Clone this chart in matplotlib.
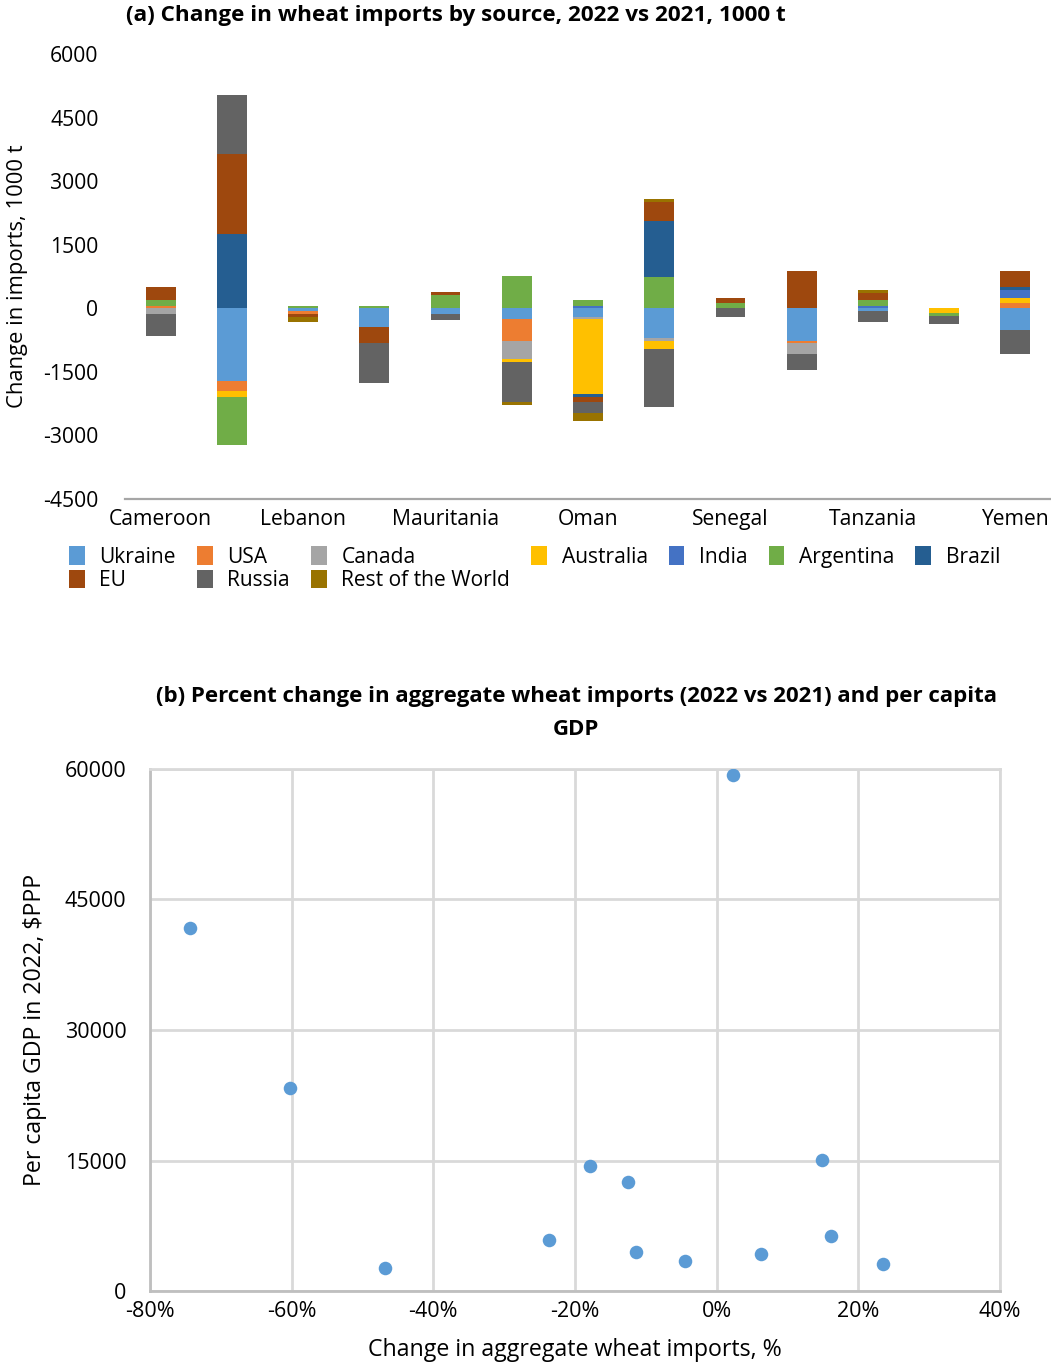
import numpy as np
import matplotlib
matplotlib.use("Agg")
import matplotlib.pyplot as plt

plt.rcParams['font.family'] = ['Open Sans', 'DejaVu Sans']
plt.rcParams['axes.unicode_minus'] = False

# ---- panel (a) data: change in wheat imports by source, 1000 t ----
countries = ['Cameroon', 'Egypt', 'Lebanon', 'Libya', 'Mauritania', 'Morocco', 'Oman',
             'Saudi Arabia', 'Senegal', 'Sudan', 'Tanzania', 'Tunisia', 'Yemen']

ukraine   = [0, -1710, -60, -436, -130, -250, -200, -696, 0, -766, -60, 0, -507]
usa       = [60, -235, -70, 0, 0, -520, 0, 0, 0, -47, 0, 0, 130]
canada    = [-130, 0, 0, 0, 0, -425, -50, -70, 0, -260, 0, 0, 0]
australia = [0, -140, 0, 0, 0, -70, -1770, -190, 0, 0, 0, -110, 118]
india     = [0, 0, 0, 0, 0, 0, 60, 0, 0, 0, 50, 0, 188]
argentina = [140, -1130, 50, 50, 318, 766, 140, 743, 130, 0, 140, -70, 0]
brazil    = [0, 1760, 0, 0, 0, 0, -70, 1320, 0, 0, 0, 0, 70]
eu        = [307, 1890, -70, -377, 70, 0, -118, 450, 118, 880, 165, 0, 377]
russia    = [-518, 1380, 0, -943, -140, -945, -260, -1370, -200, -377, -260, -190, -566]
rest      = [0, 0, -120, 0, 0, -70, -190, 70, 0, 0, 70, 0, 0]

sources = ['Ukraine', 'USA', 'Canada', 'Australia', 'India', 'Argentina', 'Brazil',
           'EU', 'Russia', 'Rest of the World']
series = [ukraine, usa, canada, australia, india, argentina, brazil, eu, russia, rest]
colors = ['#5B9BD5', '#ED7D31', '#A5A5A5', '#FFC000', '#4472C4', '#70AD47', '#255E91',
          '#9E480E', '#636363', '#997300']

# ---- panel (b) data: % change in aggregate imports vs per capita GDP ----
pct_change = [-74.4, -60.2, -46.8, -23.7, -17.9, -12.5, -11.4, -4.5, 2.3, 6.2, 14.9, 16.2, 23.5]
gdp_pc = [41700, 23350, 2690, 5900, 14400, 12560, 4520, 3490, 59280, 4290, 15085, 6360, 3145]

W, H = 1051, 1366
fig = plt.figure(figsize=(W / 100, H / 100), dpi=100)

# ---------------- (a) stacked bars ----------------
ax1 = fig.add_axes([125 / W, 1 - 499 / H, 926 / W, 445 / H])
x = np.arange(len(countries))
pos_base = np.zeros(len(countries))
neg_base = np.zeros(len(countries))
handles = []
for name, vals, col in zip(sources, series, colors):
    v = np.array(vals, dtype=float)
    p = np.where(v > 0, v, 0)
    n = np.where(v < 0, v, 0)
    h = ax1.bar(x, p, 0.42, bottom=pos_base, color=col, label=name, linewidth=0)
    ax1.bar(x, n, 0.42, bottom=neg_base, color=col, linewidth=0)
    pos_base += p
    neg_base += n
    handles.append(h)

ax1.set_xlim(-0.5, 12.5)
ax1.set_ylim(-4500, 6000)
ax1.set_yticks(np.arange(-4500, 6001, 1500))
ax1.set_xticks(x[::2])
ax1.set_xticklabels(countries[::2])
for s in ['top', 'right', 'left']:
    ax1.spines[s].set_visible(False)
ax1.spines['bottom'].set_color('#A6A6A6')
ax1.spines['bottom'].set_linewidth(1.6)
ax1.tick_params(axis='both', length=0, labelsize=15.2, colors='#000000')
ax1.tick_params(axis='y', pad=19)
ax1.tick_params(axis='x', pad=7)
ax1.set_ylabel('Change in imports, 1000 t', fontsize=15.8)
ax1.yaxis.set_label_coords(-97 / 926, 0.5)
fig.text(456 / W, 1 - 16 / H, '(a) Change in wheat imports by source, 2022 vs 2021, 1000 t',
         ha='center', va='center', fontsize=16.2, fontweight='bold')

# legend: reorder so columns read like the Excel legend rows
order = [0, 7, 1, 8, 2, 9, 3, 4, 5, 6]
fig.legend([handles[i] for i in order], [sources[i] for i in order], ncol=7,
           loc='upper left', bbox_to_anchor=(69 / W, 1 - 546 / H), frameon=False,
           fontsize=15.1, handlelength=0.75, handleheight=1.0, handletextpad=0.7,
           columnspacing=1.0, labelspacing=0.1, borderaxespad=0, borderpad=0)

# ---------------- (b) scatter ----------------
ax2 = fig.add_axes([150 / W, 1 - 1291.4 / H, 850 / W, 522.8 / H])
ax2.scatter(pct_change, gdp_pc, s=95, color='#5B9BD5', zorder=3, linewidths=0)
ax2.set_xlim(-80, 40)
ax2.set_ylim(0, 60000)
ax2.set_xticks(np.arange(-80, 41, 20))
ax2.set_xticklabels([f'{t}%' for t in range(-80, 41, 20)])
ax2.set_yticks(np.arange(0, 60001, 15000))
ax2.grid(True, color='#D9D9D9', linewidth=2)
ax2.set_axisbelow(True)
for s in ['top', 'right']:
    ax2.spines[s].set_color('#D9D9D9')
    ax2.spines[s].set_linewidth(2)
for s in ['left', 'bottom']:
    ax2.spines[s].set_color('#BFBFBF')
    ax2.spines[s].set_linewidth(2)
ax2.tick_params(axis='both', length=0, labelsize=15.5)
ax2.tick_params(axis='y', pad=17)
ax2.tick_params(axis='x', pad=7)
ax2.set_xlabel('Change in aggregate wheat imports, %', fontsize=16.7, va='center')
ax2.xaxis.set_label_coords(0.5, -(1350 - 1291.4) / 522.8)
ax2.set_ylabel('Per capita GDP in 2022, $PPP', fontsize=16.7, va='center')
ax2.yaxis.set_label_coords(-(150 - 35) / 850, 0.5)
fig.text(576 / W, 1 - 713 / H,
         '(b) Percent change in aggregate wheat imports (2022 vs 2021) and per capita\nGDP',
         ha='center', va='center', fontsize=16, fontweight='bold', linespacing=1.8)

fig.savefig('out.png', dpi=100)
